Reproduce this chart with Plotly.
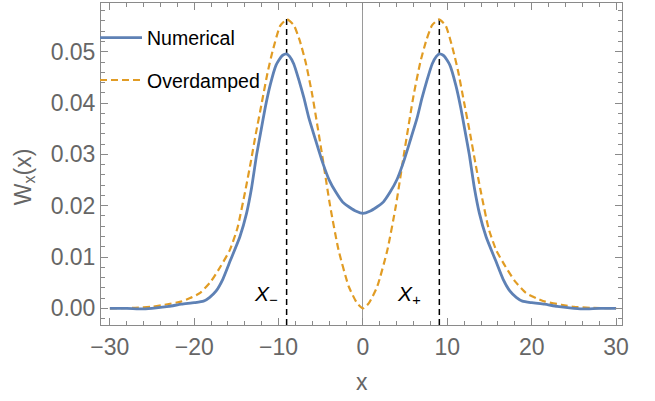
import plotly.graph_objects as go

# ---------------- data ----------------
x_num = [-30.0, -28.0, -26.0, -24.5, -23.0, -21.5, -20.0, -18.9, -18.2, -17.4, -16.6, -15.7,
         -14.6, -13.8, -13.2, -12.6, -12.1, -11.6, -11.0, -10.3, -9.6, -9.1, -8.7, -8.2,
         -7.6, -7.0, -6.4, -5.6, -4.8, -4.0, -3.2, -2.4, -1.6, -0.8, 0.0,
         0.8, 1.6, 2.4, 3.2, 4.0, 4.8, 5.6, 6.4, 7.0, 7.6, 8.2, 8.7, 9.1, 9.6, 10.3,
         11.0, 11.6, 12.1, 12.6, 13.2, 13.8, 14.6, 15.7, 16.6, 17.4, 18.2, 18.9, 20.0,
         21.5, 23.0, 24.5, 26.0, 28.0, 30.0]
w_num = [0.0000, 0.0000, -0.0001, 0.0001, 0.0004, 0.0008, 0.0011, 0.0014, 0.0021, 0.0034, 0.0057, 0.0094,
         0.0139, 0.0185, 0.0235, 0.0300, 0.0345, 0.0390, 0.0435, 0.0474, 0.0492, 0.0496, 0.0491, 0.0476,
         0.0445, 0.0410, 0.0370, 0.0327, 0.0285, 0.0250, 0.0226, 0.0207, 0.0197, 0.0189, 0.0185,
         0.0189, 0.0197, 0.0207, 0.0226, 0.0250, 0.0285, 0.0327, 0.0370, 0.0410, 0.0445, 0.0476, 0.0491, 0.0496, 0.0492, 0.0474,
         0.0435, 0.0390, 0.0345, 0.0300, 0.0235, 0.0185, 0.0139, 0.0094, 0.0057, 0.0034, 0.0021, 0.0014, 0.0011,
         0.0008, 0.0004, 0.0001, -0.0001, 0.0000, 0.0000]

x_od = [-30.0, -27.0, -25.0, -23.5, -21.6, -20.5, -19.3, -18.0, -16.9, -15.8, -14.9, -13.9, -13.3,
        -12.7, -12.0, -11.3, -10.7, -9.8, -9.0, -8.2, -7.5, -6.8, -6.0, -4.9, -3.9, -2.9, -1.7, -0.7, 0.0,
        0.7, 1.7, 2.9, 3.9, 4.9, 6.0, 6.8, 7.5, 8.2, 9.0, 9.8, 10.7, 11.3, 12.0, 12.7,
        13.3, 13.9, 14.9, 15.8, 16.9, 18.0, 19.3, 20.5, 21.6, 23.5, 25.0, 27.0, 30.0]
w_od = [0.0000, 0.0001, 0.0003, 0.0007, 0.0013, 0.0020, 0.0030, 0.0053, 0.0081, 0.0113, 0.0155, 0.0233, 0.0285,
        0.0340, 0.0400, 0.0460, 0.0502, 0.0551, 0.0563, 0.0552, 0.0522, 0.0480, 0.0415, 0.0305, 0.0200, 0.0114, 0.0043, 0.0010, 0.0000,
        0.0010, 0.0043, 0.0114, 0.0200, 0.0305, 0.0415, 0.0480, 0.0522, 0.0552, 0.0563, 0.0551, 0.0502, 0.0460, 0.0400, 0.0340,
        0.0285, 0.0233, 0.0155, 0.0113, 0.0081, 0.0053, 0.0030, 0.0020, 0.0013, 0.0007, 0.0003, 0.0001, 0.0000]

x_marks = [-9.05, 9.05]
mark_labels = ["X<sub>\u2212</sub>", "X<sub>+</sub>"]

x_ticks = [-30, -20, -10, 0, 10, 20, 30]
y_ticks = [0.00, 0.01, 0.02, 0.03, 0.04, 0.05]

# ---------------- styling ----------------
BLUE = "#5E81B5"
ORANGE = "#E19C24"
FRAME = "#8a8a8a"
LABEL = "#666666"
FONT = "Liberation Sans, Arial, sans-serif"

x_range = [-31.05, 30.7]
y_range = [-0.00325, 0.0595]

fig = go.Figure()

# vertical markers at X-, X+
for xm in x_marks:
    fig.add_trace(go.Scatter(x=[xm, xm], y=[y_range[0], 0.0571], mode="lines",
                             line=dict(color="black", width=1.5, dash="6px,4px"),
                             showlegend=False, hoverinfo="skip"))

fig.add_trace(go.Scatter(x=x_od, y=w_od, mode="lines", name="Overdamped",
                         line=dict(color=ORANGE, width=2.2, dash="7px,4px", shape="spline", smoothing=0.5),
                         legendgroup="b", legendrank=2))
fig.add_trace(go.Scatter(x=x_num, y=w_num, mode="lines", name="Numerical",
                         line=dict(color=BLUE, width=2.8, shape="spline", smoothing=0.5),
                         legendgroup="a", legendrank=1))

axis_common = dict(
    showgrid=False, showline=True, linecolor=FRAME, linewidth=1, mirror="ticks",
    ticks="inside", ticklen=7, tickcolor=FRAME, tickwidth=1, automargin=False,
    tickfont=dict(family=FONT, size=23, color=LABEL),
)

fig.update_xaxes(range=x_range, tickvals=x_ticks, zeroline=True, zerolinecolor="#9a9a9a",
                 zerolinewidth=1, ticklabelstandoff=1,
                 minor=dict(dtick=2, ticklen=4, ticks="inside", tickcolor=FRAME), **axis_common)
fig.update_yaxes(range=y_range, tickvals=y_ticks, tickformat=".2f", zeroline=False,
                 ticklabelstandoff=0,
                 minor=dict(dtick=0.002, ticklen=4, ticks="inside", tickcolor=FRAME), **axis_common)

annotations = [
    dict(text="x", xref="paper", yref="paper", x=0.5, y=-0.177, yanchor="middle",
         showarrow=False, font=dict(family=FONT, size=23, color=LABEL)),
    dict(text="W<sub>x</sub>(x)", xref="paper", yref="paper", x=-0.147, y=0.46,
         xanchor="center", yanchor="middle", textangle=-90,
         showarrow=False, font=dict(family=FONT, size=23, color=LABEL)),
    dict(text="<i>" + mark_labels[0] + "</i>", x=-9.85, y=0.0026, xanchor="right", yanchor="middle",
         showarrow=False, font=dict(family=FONT, size=21, color="black")),
    dict(text="<i>" + mark_labels[1] + "</i>", x=7.1, y=0.0026, xanchor="right", yanchor="middle",
         showarrow=False, font=dict(family=FONT, size=21, color="black")),
]

fig.update_layout(
    width=655, height=401,
    margin=dict(l=101, r=33, t=3, b=76),
    plot_bgcolor="white", paper_bgcolor="white",
    annotations=annotations,
    legend=dict(x=-0.0115, y=0.952, xanchor="left", yanchor="top", bgcolor="rgba(0,0,0,0)",
                font=dict(family=FONT, size=19.5, color="black"), tracegroupgap=14,
                traceorder="grouped", borderwidth=0, itemwidth=42),
)

fig.write_html("out.html", config={"displayModeBar": False},
               post_script="document.body.style.margin='0px';")
